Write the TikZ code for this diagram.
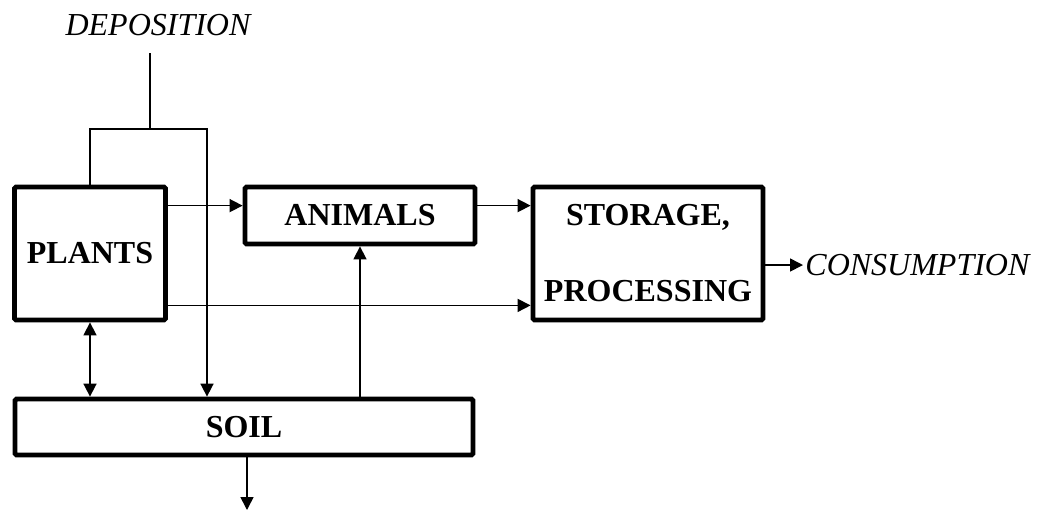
\documentclass[tikz,border=0pt]{standalone}
\usepackage{fontspec}
\setmainfont{Liberation Serif}
\usetikzlibrary{positioning,arrows.meta}

\begin{document}
\begin{tikzpicture}[x=0.5pt, y=-0.5pt]
    \tikzset{
        box/.style = {rectangle, line width=2.4pt, rounded corners=0.8pt, draw=black, fill=white,
                      inner sep=0pt, font=\fontsize{16}{19}\selectfont\bfseries, align=center},
        label/.style = {inner sep=1pt, font=\fontsize{16}{19}\selectfont\itshape},
        arrow/.style = {line width=0.8pt, -{Triangle[length=6.5pt,width=6.5pt]}},
        twoway/.style = {line width=0.8pt, {Triangle[length=6.5pt,width=6.5pt]}-{Triangle[length=6.5pt,width=6.5pt]}},
        line/.style = {line width=0.8pt}
    }
    \useasboundingbox (0,0) rectangle (1047,511);

    \node (plants) [box, minimum width=75.5pt, minimum height=66.5pt] at (90,253.5) {PLANTS};
    \node (animals) [box, minimum width=115pt, minimum height=28.5pt] at (360,215.5) {ANIMALS};
    \node (storage) [box, minimum width=115pt, minimum height=66.5pt] at (648,253.5) {STORAGE,\\[19pt]PROCESSING};
    \node (soil) [box, minimum width=229pt, minimum height=28pt] at (244,427) {SOIL};

    \node (deposition) [label] at (158,25) {DEPOSITION};
    \node (consumption) [label, anchor=west] at (803,265) {CONSUMPTION};

    % deposition splits to plants and soil
    \coordinate (depfoot) at (150,53);
    \coordinate (split) at (150,129);
    \coordinate (drop) at (207,129);
    \draw [line] (split) -- (depfoot);
    \draw [arrow] (plants.north) |- (drop) -- (drop |- soil.north);

    % flows between the boxes
    \coordinate (upper) at ([yshift=-10.5pt]plants.north east);
    \coordinate (lower) at ([yshift=8.5pt]plants.south east);
    \draw [arrow] (upper) -- (upper -| animals.west);
    \draw [arrow] (upper -| animals.east) -- (upper -| storage.west);
    \draw [arrow] (lower) -- (lower -| storage.west);
    \draw [arrow] ([yshift=-5.75pt]storage.east) -- (consumption.west);

    \draw [twoway] (plants.south) -- (plants.south |- soil.north);
    \draw [arrow] (soil.north -| animals.south) -- (animals.south);

    \coordinate (loss) at (247,510);
    \draw [arrow] (soil.south -| loss) -- (loss);
\end{tikzpicture}
\end{document}
